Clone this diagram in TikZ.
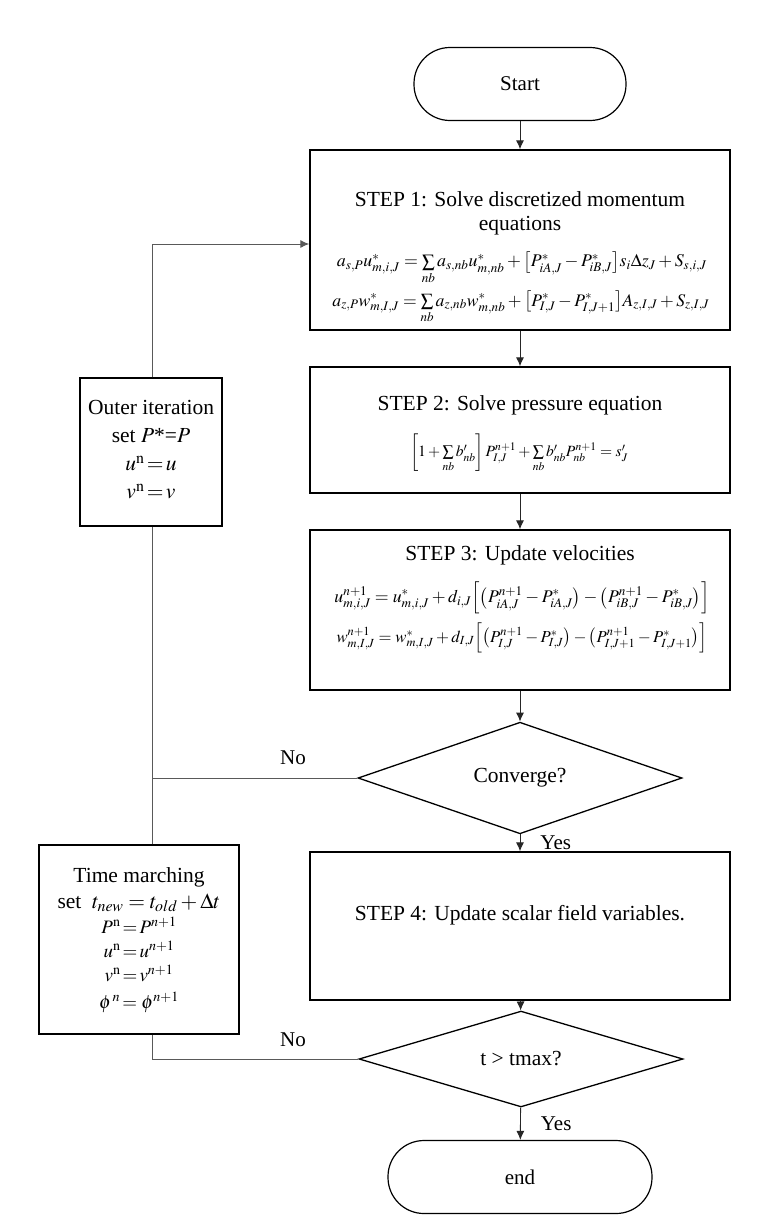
\documentclass[tikz,border=0pt]{standalone}
\usepackage{mathptmx}
\usepackage[no-math]{fontspec}
\setmainfont{Liberation Serif}
\usepackage{graphicx}
\usetikzlibrary{shapes.geometric,arrows.meta}
\tikzset{
  txt/.style={font=\fontsize{21.5}{24}\selectfont, align=center, inner sep=0pt},
  lbl/.style={font=\fontsize{21}{24}\selectfont, inner sep=0pt},
  eqn/.style={font=\fontsize{14}{16}\selectfont, inner sep=0pt},
  stepbox/.style={draw=black, line width=1.4pt, minimum width=420pt, inner sep=0pt},
  term/.style={draw=black, line width=1.2pt, rounded corners=36pt, minimum height=73pt, inner sep=0pt, font=\fontsize{21}{24}\selectfont},
  dec/.style={diamond, draw=black, line width=1.3pt, minimum width=324pt, minimum height=90pt, inner sep=0pt, font=\fontsize{21.5}{24}\selectfont},
  sidebox/.style={draw=black, line width=1.4pt, inner sep=0pt},
  flow/.style={draw=black!85, line width=0.9pt, -{Latex[length=9pt,width=8pt]}},
  loopline/.style={draw=black!65, line width=1pt},
}
\begin{document}
\begin{tikzpicture}[x=1pt,y=-1pt]
\fill[white] (0,0) rectangle (762,1226);
\useasboundingbox (0,0) rectangle (762,1226);

% terminals
\node[term, minimum width=212pt] (start) at (520,84) {Start};
\node[term, minimum width=264pt] (end) at (520,1177) {end};

% step boxes
\node[stepbox, minimum height=180pt] (step1) at (520,240) {};
\node[txt] (s1t) at (520,213) {STEP 1: Solve discretized momentum\\equations};
\node[eqn] (s1a) at (522,268) {\resizebox{370pt}{!}{$a_{s,P}u^{*}_{m,i,J}=\sum\limits_{nb}a_{s,nb}u^{*}_{m,nb}+\bigl[P^{*}_{iA,J}-P^{*}_{iB,J}\bigr]s_i\Delta z_J+S_{s,i,J}$}};
\node[eqn] (s1b) at (521,307) {\resizebox{377pt}{!}{$a_{z,P}w^{*}_{m,I,J}=\sum\limits_{nb}a_{z,nb}w^{*}_{m,nb}+\bigl[P^{*}_{I,J}-P^{*}_{I,J+1}\bigr]A_{z,I,J}+S_{z,I,J}$}};

\node[stepbox, minimum height=126pt] (step2) at (520,430) {};
\node[txt] (s2t) at (520,405) {STEP 2: Solve pressure equation};
\node[eqn] (s2a) at (519,453) {\resizebox{218pt}{!}{$\left[1+\sum\limits_{nb}b'_{nb}\right]P^{n+1}_{I,J}+\sum\limits_{nb}b'_{nb}P^{n+1}_{nb}=s'_J$}};

\node[stepbox, minimum height=160pt] (step3) at (520,610) {};
\node[txt] (s3t) at (520,555) {STEP 3: Update velocities};
\node[eqn] (s3a) at (522,598) {\resizebox{375pt}{!}{$u^{n+1}_{m,i,J}=u^{*}_{m,i,J}+d_{i,J}\Bigl[\bigl(P^{n+1}_{iA,J}-P^{*}_{iA,J}\bigr)-\bigl(P^{n+1}_{iB,J}-P^{*}_{iB,J}\bigr)\Bigr]$}};
\node[eqn] (s3b) at (522,638) {\resizebox{371pt}{!}{$w^{n+1}_{m,I,J}=w^{*}_{m,I,J}+d_{I,J}\Bigl[\bigl(P^{n+1}_{I,J}-P^{*}_{I,J}\bigr)-\bigl(P^{n+1}_{I,J+1}-P^{*}_{I,J+1}\bigr)\Bigr]$}};

\node[dec] (conv) at (520,778) {Converge?};

\node[stepbox, minimum height=148pt] (step4) at (520,926) {};
\node[txt] (s4t) at (520,915) {STEP 4: Update scalar field variables.};

\node[dec] (tmax) at (521,1059) {t > tmax?};

% side boxes
\node[sidebox, minimum width=142pt, minimum height=148pt] (outer) at (151,452) {};
\node[txt] (outert) at (151,450) {Outer iteration\\[4pt]
  set $P$*=$P$\\[4pt]
  $u^{\mathrm{n}}\!=\!u$\\[4pt]
  $v^{\mathrm{n}}\!=\!v$};

\node[sidebox, minimum width=200pt, minimum height=189pt] (tm) at (139,939.5) {};
\node[txt] (tmt) at (139,940) {Time marching\\[2pt]
  set\ \ $t_{new}=t_{old}+\Delta t$\\[1pt]
  {\fontsize{19}{24}\selectfont $P^{\mathrm{n}}\!=\!P^{n+1}$}\\
  {\fontsize{19}{24}\selectfont $u^{\mathrm{n}}\!=\!u^{n+1}$}\\
  {\fontsize{19}{24}\selectfont $v^{\mathrm{n}}\!=\!v^{n+1}$}\\[3pt]
  {\fontsize{19}{24}\selectfont $\phi^{\,n}\!= \phi^{n+1}$}};

% main flow
\draw[flow] (start) -- (step1);
\draw[flow] (step1) -- (step2);
\draw[flow] (step2) -- (step3);
\draw[flow] (step3) -- (conv);
\draw[flow] (conv) -- node[lbl, right=20pt] (yes1) {Yes} (step4);
\draw[flow] (step4) -- (tmax);
\draw[flow] (tmax) -- node[lbl, right=20pt] (yes2) {Yes} (end);

% loops
\coordinate (c1) at (152,778);
\coordinate (c2) at (152,244);
\coordinate (c3) at (152,1059);
\draw[loopline] (conv.west) -- (c1) -- (outer.south -| c1);
\draw[loopline, -{Latex[length=9pt,width=8pt]}] (outer.north -| c1) -- (c2) -- (step1.west |- c2);
\draw[loopline] (tmax.west) -- (c3) -- (tm.south -| c3);
\draw[loopline] (tm.north -| c3) -- (c1);
\node[lbl] (no1) at (293,758) {No};
\node[lbl] (no2) at (293,1040) {No};
\end{tikzpicture}
\end{document}
